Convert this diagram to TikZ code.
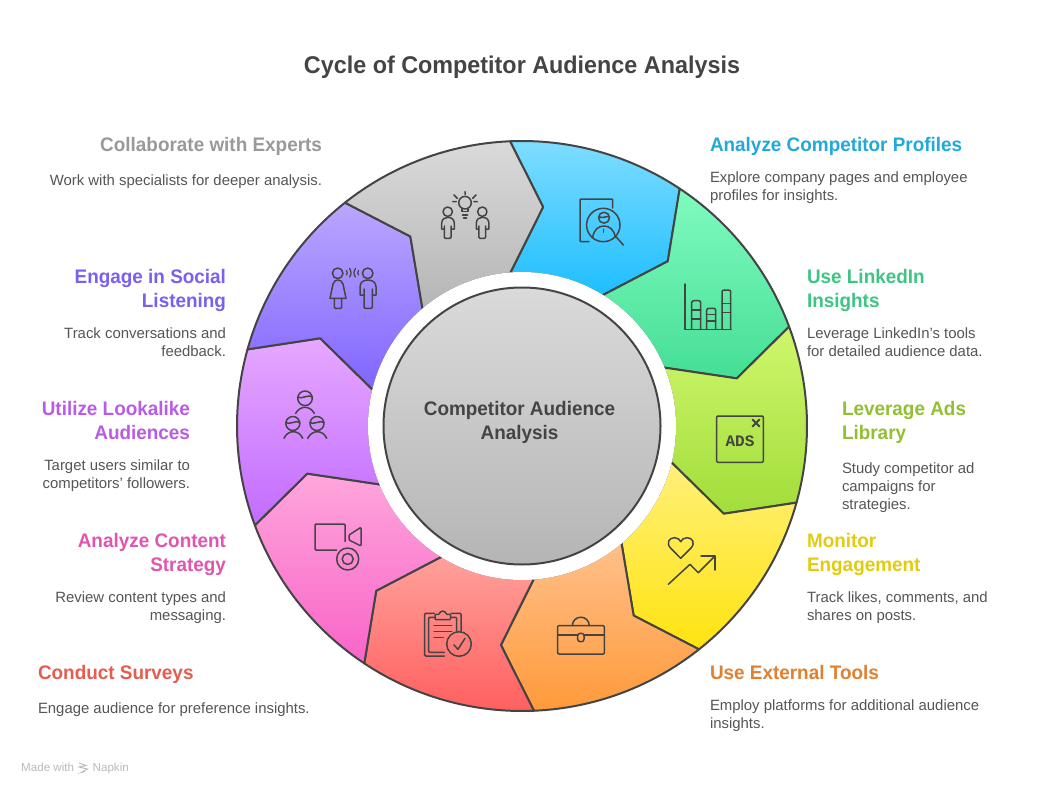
\documentclass[tikz,border=0pt]{standalone}
\usepackage{fontspec}
\setmainfont{Liberation Sans}
\newfontfamily\adsfont{Liberation Mono}
\newfontfamily\hfont[FakeStretch=0.965]{Liberation Sans}
\usetikzlibrary{calc}
\definecolor{ink}{HTML}{444444}
\definecolor{bodytxt}{HTML}{555555}
\definecolor{blueT}{HTML}{80DDFF}\definecolor{blueB}{HTML}{1EBEFF}
\definecolor{greenT}{HTML}{80FBC0}\definecolor{greenB}{HTML}{45DE95}
\definecolor{limeT}{HTML}{CFF76C}\definecolor{limeB}{HTML}{A2DD3A}
\definecolor{yelT}{HTML}{FFF07A}\definecolor{yelB}{HTML}{FFE30F}
\definecolor{oraT}{HTML}{FFC08A}\definecolor{oraB}{HTML}{FF9A3A}
\definecolor{redT}{HTML}{FFA09A}\definecolor{redB}{HTML}{FF5F5F}
\definecolor{pinkT}{HTML}{FFA6DC}\definecolor{pinkB}{HTML}{F864C8}
\definecolor{purT}{HTML}{E6A8FF}\definecolor{purB}{HTML}{C26BFF}
\definecolor{vioT}{HTML}{BBA6FF}\definecolor{vioB}{HTML}{8065FF}
\definecolor{gryT}{HTML}{DADADA}\definecolor{gryB}{HTML}{B5B5B5}
\definecolor{hBlue}{HTML}{22A9DA}\definecolor{hGreen}{HTML}{3CC583}
\definecolor{hLime}{HTML}{93BF33}\definecolor{hYel}{HTML}{E3CB10}
\definecolor{hOra}{HTML}{E08030}\definecolor{hRed}{HTML}{E85C50}
\definecolor{hPink}{HTML}{E055B0}\definecolor{hPur}{HTML}{B85CE8}
\definecolor{hVio}{HTML}{7B60F0}\definecolor{hGry}{HTML}{999999}
\tikzset{
  seg/.style={draw=ink,line width=2pt,line join=round},
  icon/.style={draw=ink,line width=1.5pt,line cap=round,line join=round},
  heading/.style={font=\hfont\fontsize{19.6}{24}\selectfont\bfseries,inner sep=0pt,outer sep=0pt},
  bodyt/.style={font=\fontsize{14.9}{18}\selectfont,text=bodytxt,inner sep=0pt,outer sep=0pt},
  foot/.style={font=\fontsize{11.6}{13}\selectfont,text=black!27,inner sep=0pt,anchor=base west},
}
\begin{document}
\begin{tikzpicture}[x=1pt,y=-1pt]
\useasboundingbox (0,0) rectangle (1044,792);
\fill[white] (0,0) rectangle (1044,792);
\coordinate (c) at (522,426);
\foreach \i/\tc/\bc in {0/blueT/blueB,1/greenT/greenB,2/limeT/limeB,3/yelT/yelB,4/oraT/oraB,5/redT/redB,6/pinkT/pinkB,7/purT/purB,8/vioT/vioB,9/gryT/gryB}{
  \pgfmathsetmacro\oa{92.4-36*\i}\pgfmathsetmacro\ob{\oa-36}
  \pgfmathsetmacro\va{84.5-36*\i}\pgfmathsetmacro\vb{\va-36}
  \pgfmathsetmacro\ia{94.5-36*\i}\pgfmathsetmacro\ib{\ia-36}
  \draw[seg,top color=\tc,bottom color=\bc]
    ($(c)+(\oa:285pt)$) arc[start angle=\oa,end angle=\ob,radius=285pt]
    -- ($(c)+(\vb:220pt)$) -- ($(c)+(\ib:153pt)$)
    arc[start angle=\ib,end angle=\ia,radius=153pt]
    -- ($(c)+(\va:220pt)$) -- cycle;
}
\fill[white] (c) circle[radius=154pt];
\draw[seg,top color=gryT,bottom color=gryB] (c) circle[radius=138.5pt];

% centre and title
\node[heading,text=ink,align=center,anchor=center] (centre) at (519.5,422.5) {Competitor Audience\\Analysis};
\node[font=\hfont\fontsize{24.2}{28}\selectfont\bfseries,text=ink,inner sep=0pt] (title) at (522,67) {Cycle of Competitor Audience Analysis};

% headings and bodies
\node[heading,text=hBlue,anchor=north west] (h1) at (710,137) {Analyze Competitor Profiles};
\node[bodyt,align=left,anchor=north west] (b1) at (710,172) {Explore company pages and employee\\profiles for insights.};
\node[heading,text=hGreen,align=left,anchor=north west] (h2) at (807,269) {Use LinkedIn\\Insights};
\node[bodyt,align=left,anchor=north west] (b2) at (807,328) {Leverage LinkedIn's tools\\for detailed audience data.};
\node[heading,text=hLime,align=left,anchor=north west] (h3) at (842,401) {Leverage Ads\\Library};
\node[bodyt,align=left,anchor=north west] (b3) at (842,463) {Study competitor ad\\campaigns for\\strategies.};
\node[heading,text=hYel,align=left,anchor=north west] (h4) at (807,533) {Monitor\\Engagement};
\node[bodyt,align=left,anchor=north west] (b4) at (807,592) {Track likes, comments, and\\shares on posts.};
\node[heading,text=hOra,anchor=north west] (h5) at (710,665) {Use External Tools};
\node[bodyt,align=left,anchor=north west] (b5) at (710,700) {Employ platforms for additional audience\\insights.};
\node[heading,text=hRed,anchor=north west] (h6) at (38,665) {Conduct Surveys};
\node[bodyt,anchor=north west] (b6) at (38,703) {Engage audience for preference insights.};
\node[heading,text=hPink,align=right,anchor=north east] (h7) at (226,533) {Analyze Content\\Strategy};
\node[bodyt,align=right,anchor=north east] (b7) at (226,592) {Review content types and\\messaging.};
\node[heading,text=hPur,align=right,anchor=north east] (h8) at (190,401) {Utilize Lookalike\\Audiences};
\node[bodyt,align=right,anchor=north east] (b8) at (190,460) {Target users similar to\\competitors' followers.};
\node[heading,text=hVio,align=right,anchor=north east] (h9) at (226,269) {Engage in Social\\Listening};
\node[bodyt,align=right,anchor=north east] (b9) at (226,328) {Track conversations and\\feedback.};
\node[heading,text=hGry,anchor=north east] (h10) at (322,137) {Collaborate with Experts};
\node[bodyt,anchor=north east] (b10) at (322,175) {Work with specialists for deeper analysis.};

% blue icon
\draw[icon,rounded corners=1pt] (589,241.7) -- (580,241.7) -- (580,199) -- (612.7,199) -- (612.7,208);
\draw[icon] (603.3,225) circle[radius=16.7pt];
\draw[icon] (616.3,237) -- (623.3,245);
\draw[icon] (604,217.7) circle[radius=5.5pt];
\draw[icon] (598.6,216.5) .. controls (602,219) and (606,216) .. (609.4,216.5);
\draw[icon] (592.7,237.3) .. controls (594,229) and (599,226) .. (604,226) .. controls (609,226) and (614,229) .. (615.3,237.3);
\draw[icon] (603.7,229.3) -- (603.7,232.3);
% green icon
\draw[icon] (685,284) -- (685,329.3) -- (731,329.3);
\draw[icon,rounded corners=2pt] (691.7,329.3) -- (691.7,300.7) -- (700.7,300.7) -- (700.7,329.3);
\draw[icon] (691.7,310) -- (700.7,310) (691.7,319) -- (700.7,319);
\draw[icon,rounded corners=2pt] (706.7,329.3) -- (706.7,308.3) -- (715.7,308.3) -- (715.7,329.3);
\draw[icon] (706.7,314.3) -- (715.7,314.3) (706.7,321) -- (715.7,321);
\draw[icon,rounded corners=2pt] (722,329.3) -- (722,290) -- (730.7,290) -- (730.7,329.3);
\draw[icon] (722,303.3) -- (730.7,303.3) (722,312.3) -- (730.7,312.3);
% lime icon
\draw[icon,rounded corners=1pt] (716.7,416) rectangle (763.3,462.3);
\draw[icon,line width=2pt] (752.5,419.5) -- (759.5,426.5) (759.5,419.5) -- (752.5,426.5);
\node[font=\adsfont\fontsize{16}{18}\selectfont\bfseries,text=ink,inner sep=0pt] (ads) at (740,441.5) {ADS};
% yellow icon
\draw[icon] (680.7,558.3) -- (670.5,548) .. controls (666,543) and (669,537.7) .. (674.5,537.7) .. controls (677.5,537.7) and (680,539.5) .. (680.7,541.7) .. controls (681.5,539.5) and (684,537.7) .. (687,537.7) .. controls (692.5,537.7) and (695.5,543) .. (691,548) -- cycle;
\draw[icon] (668.3,584.3) -- (690,564.3) -- (698.3,572.7) -- (715,556);
\draw[icon] (701,556) -- (715,556) -- (715,570);
% orange icon
\draw[icon,rounded corners=1pt] (557.7,625.7) rectangle (604.3,654);
\draw[icon] (557.7,635) -- (577.7,635) (584,635) -- (604.3,635);
\draw[icon] (572.3,625.7) arc[start angle=180,end angle=0,radius=8.5pt];
\draw[icon,rounded corners=2.5pt] (577.7,633.3) rectangle (584,641.7);
% red icon
\draw[icon,rounded corners=1pt] (444.3,656) -- (424.7,656) -- (424.7,613.3) -- (434.5,613.3);
\draw[icon,rounded corners=1pt] (451,613.3) -- (461,613.3) -- (461,631);
\draw[icon,rounded corners=1pt] (444.3,652.3) -- (428.7,652.3) -- (428.7,617.3) -- (434.5,617.3);
\draw[icon,rounded corners=1pt] (451,617.3) -- (456.7,617.3) -- (456.7,631);
\draw[icon,rounded corners=1pt] (435,619.7) -- (435,614.3) -- (439.5,614.3) arc[start angle=180,end angle=0,radius=3.2pt] -- (450.7,614.3) -- (450.7,619.7) -- cycle;
\draw[icon] (434,625.7) -- (451.7,625.7) (434,631.7) -- (451.7,631.7) (434,637.7) -- (443.3,637.7);
\draw[icon] (459,644) circle[radius=12.3pt];
\draw[icon] (454,645) -- (458,649.3) -- (465,638.3);
% pink icon
\draw[icon,rounded corners=1pt] (336.7,550) -- (315,550) -- (315,524) -- (345,524) -- (345,541.7);
\draw[icon,rounded corners=1pt] (349,535) -- (361,527.3) -- (361,546) -- (349,540) -- cycle;
\draw[icon] (347.7,559) circle[radius=11pt];
\draw[icon] (347.7,559) circle[radius=5.5pt];
% purple icon
\draw[icon] (305,398.3) circle[radius=7.3pt];
\draw[icon] (297.7,397) .. controls (301,400) and (309,393.5) .. (312.3,397);
\draw[icon] (295.7,413.3) .. controls (298,409) and (302,407.3) .. (305,407.3) .. controls (308,407.3) and (312,409) .. (314.3,413.3);
\draw[icon] (292.8,423.5) circle[radius=7pt];
\draw[icon] (285.8,422.5) .. controls (289,425.5) and (296.5,419.5) .. (299.8,422.5);
\draw[icon] (284,438.3) .. controls (286,433.5) and (290,431.7) .. (293.3,431.7) .. controls (296.6,431.7) and (300.7,433.5) .. (302.7,438.3);
\draw[icon] (317,423.5) circle[radius=7pt];
\draw[icon] (310,422.5) .. controls (313,425.5) and (320.5,419.5) .. (324,422.5);
\draw[icon] (307.7,438.3) .. controls (310,433.5) and (314,431.7) .. (317.3,431.7) .. controls (320.6,431.7) and (324.7,433.5) .. (326.7,438.3);
% violet icon
\draw[icon] (337.7,273.3) circle[radius=5.3pt];
\draw[icon,rounded corners=1pt] (334.3,298.3) -- (334.3,308.3) -- (341.7,308.3) -- (341.7,298.3);
\draw[icon,line join=round] (330,298.3) -- (333,284) .. controls (334,281) and (336,280) .. (337.7,280) .. controls (340,280) and (342,281) .. (343,284) -- (346,298.3) -- cycle;
\draw[icon] (367.7,273.3) circle[radius=5.3pt];
\draw[icon] (364,295) -- (360,295) -- (360,286.7) .. controls (360,282) and (364,280) .. (367.7,280) .. controls (372,280) and (376,282) .. (376,286.7) -- (376,295) -- (372.3,295);
\draw[icon,rounded corners=1pt] (364,289) -- (364,308.3) -- (372.3,308.3) -- (372.3,289);
\draw[icon,line width=1.2pt] (346.5,270.5) .. controls (347.5,272) and (347.5,274) .. (346.5,275);
\draw[icon,line width=1.2pt] (349.5,268.5) .. controls (351.5,271) and (351.5,275) .. (349.5,277);
\draw[icon,line width=1.2pt] (358.5,270.5) .. controls (357.5,272) and (357.5,274) .. (358.5,275);
\draw[icon,line width=1.2pt] (355.5,268.5) .. controls (353.5,271) and (353.5,275) .. (355.5,277);
% grey icon
\draw[icon] (447.7,211.7) circle[radius=4.7pt];
\draw[icon] (444.3,229) -- (441.7,229) -- (441.7,223.3) .. controls (441.7,219) and (445,217.3) .. (447.7,217.3) .. controls (451,217.3) and (454.3,219) .. (454.3,223.3) -- (454.3,229) -- (451,229);
\draw[icon,rounded corners=1pt] (444.3,226) -- (444.3,238.3) -- (451,238.3) -- (451,226);
\draw[icon] (482.3,211.7) circle[radius=4.7pt];
\draw[icon] (478.9,229) -- (476.3,229) -- (476.3,223.3) .. controls (476.3,219) and (479.6,217.3) .. (482.3,217.3) .. controls (485.6,217.3) and (488.9,219) .. (488.9,223.3) -- (488.9,229) -- (485.6,229);
\draw[icon,rounded corners=1pt] (478.9,226) -- (478.9,238.3) -- (485.6,238.3) -- (485.6,226);
\draw[icon] (465,202.7) circle[radius=6.3pt];
\draw[icon] (462,208.5) -- (462,211.7) -- (468,211.7) -- (468,208.5);
\draw[icon] (462.5,215) -- (467.5,215) (463.5,218) -- (466.5,218);
\draw[icon] (465,191.7) -- (465,194.5) (454,195) -- (457.3,198.3) (476,195) -- (472.7,198.3) (452.7,201.7) -- (456.2,201.7) (473.8,201.7) -- (477.3,201.7);
% footer
\node[foot] (made) at (21,771.5) {Made with};
\node[foot] (napkin) at (92.5,771.5) {Napkin};
\draw[black!27,line width=0.9pt] (79,763) -- (86,765.5) -- (79,767) -- (87.5,769) -- (81,772.5) -- (85,771.5);
\end{tikzpicture}
\end{document}
